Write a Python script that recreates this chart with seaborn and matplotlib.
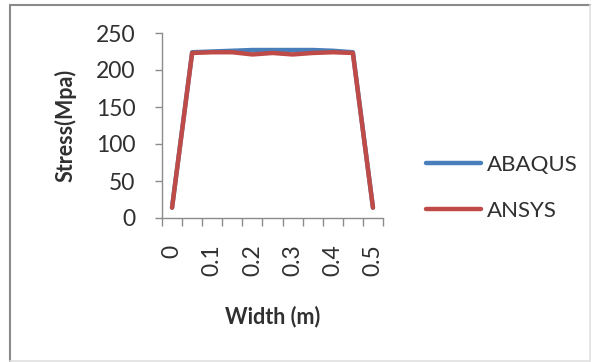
import matplotlib
matplotlib.use("Agg")
import matplotlib.pyplot as plt
import numpy as np
import pandas as pd
import seaborn as sns
from matplotlib.lines import Line2D

# Stress across the plate width
width_m = ["0", "0.05", "0.1", "0.15", "0.2", "0.25", "0.3", "0.35", "0.4", "0.45", "0.5"]
abaqus = [14, 224, 225, 226, 227, 227, 227, 227, 226, 224, 14]
ansys = [14, 223, 224, 224, 221, 223, 221, 223, 224, 223, 14]
tick_labels = ["0", "0.1", "0.2", "0.3", "0.4", "0.5"]
series_names = ["ABAQUS", "ANSYS"]
colors = ["#4A7EBB", "#BE4B48"]

df = pd.DataFrame({
    "Width": width_m * 2,
    "Stress": abaqus + ansys,
    "Model": [series_names[0]] * len(width_m) + [series_names[1]] * len(width_m),
})

sns.set_theme(style="white")
plt.rcParams["font.family"] = ["Lato", "DejaVu Sans"]

fig = plt.figure(figsize=(5.92, 3.62), dpi=100)
ax = fig.add_axes([162 / 592, 1 - 218 / 362, 221 / 592, 185 / 362])

sns.lineplot(data=df, x="Width", y="Stress", hue="Model", palette=colors,
             linewidth=3.2, sort=False, ax=ax, legend=False)

n = len(width_m)
ax.set_xlim(-0.5, n - 0.5)
ax.set_ylim(0, 250)
ax.set_yticks(np.arange(0, 251, 50))

# Category boundaries carry the tick marks; every other category gets a label
ax.set_xticks(np.arange(-0.5, n, 1.0))
ax.set_xticklabels([])
ax.set_xticks(np.arange(0, n, 2), minor=True)
ax.set_xticklabels(tick_labels, minor=True, rotation=90, va="top", ha="center")

text_color = "#303030"
axis_gray = "#8c8c8c"
for side in ["top", "right"]:
    ax.spines[side].set_visible(False)
for side in ["left", "bottom"]:
    ax.spines[side].set_color(axis_gray)
    ax.spines[side].set_linewidth(1.0)

ax.tick_params(axis="x", which="major", direction="out", length=6, width=1,
               color=axis_gray, bottom=True)
ax.tick_params(axis="x", which="minor", length=0, pad=19, labelsize=16.5,
               labelcolor=text_color, bottom=True)
ax.tick_params(axis="y", direction="out", length=5, width=1, color=axis_gray,
               pad=14, labelsize=16.5, labelcolor=text_color, left=True)

ax.set_xlabel("Width (m)", fontsize=15.5, fontweight="bold", color=text_color, labelpad=21)
ax.set_ylabel("Stress(Mpa)", fontsize=15.5, fontweight="bold", color=text_color, labelpad=14)

handles = [Line2D([0], [0], color=c, lw=3.2) for c in colors]
leg = fig.legend(handles, series_names, loc="center left",
                 bbox_to_anchor=(415 / 592, 1 - 188 / 362), frameon=False,
                 fontsize=16, handlelength=2.45, handletextpad=0.3,
                 labelspacing=1.15, borderpad=0)
for t in leg.get_texts():
    t.set_color(text_color)

# Chart frame
fig.add_artist(Line2D([10 / 592, 590 / 592], [1 - 5 / 362] * 2, color="#8a8a8a", lw=1.5))
fig.add_artist(Line2D([10 / 592] * 2, [1 - 5 / 362, 1 - 361 / 362], color="#8a8a8a", lw=1.5))
fig.add_artist(Line2D([590 / 592] * 2, [1 - 5 / 362, 1 - 361 / 362], color="#e0e0e0", lw=1.2))
fig.add_artist(Line2D([10 / 592, 590 / 592], [1 - 361 / 362] * 2, color="#e0e0e0", lw=1.2))

fig.savefig("out.png", dpi=100)
